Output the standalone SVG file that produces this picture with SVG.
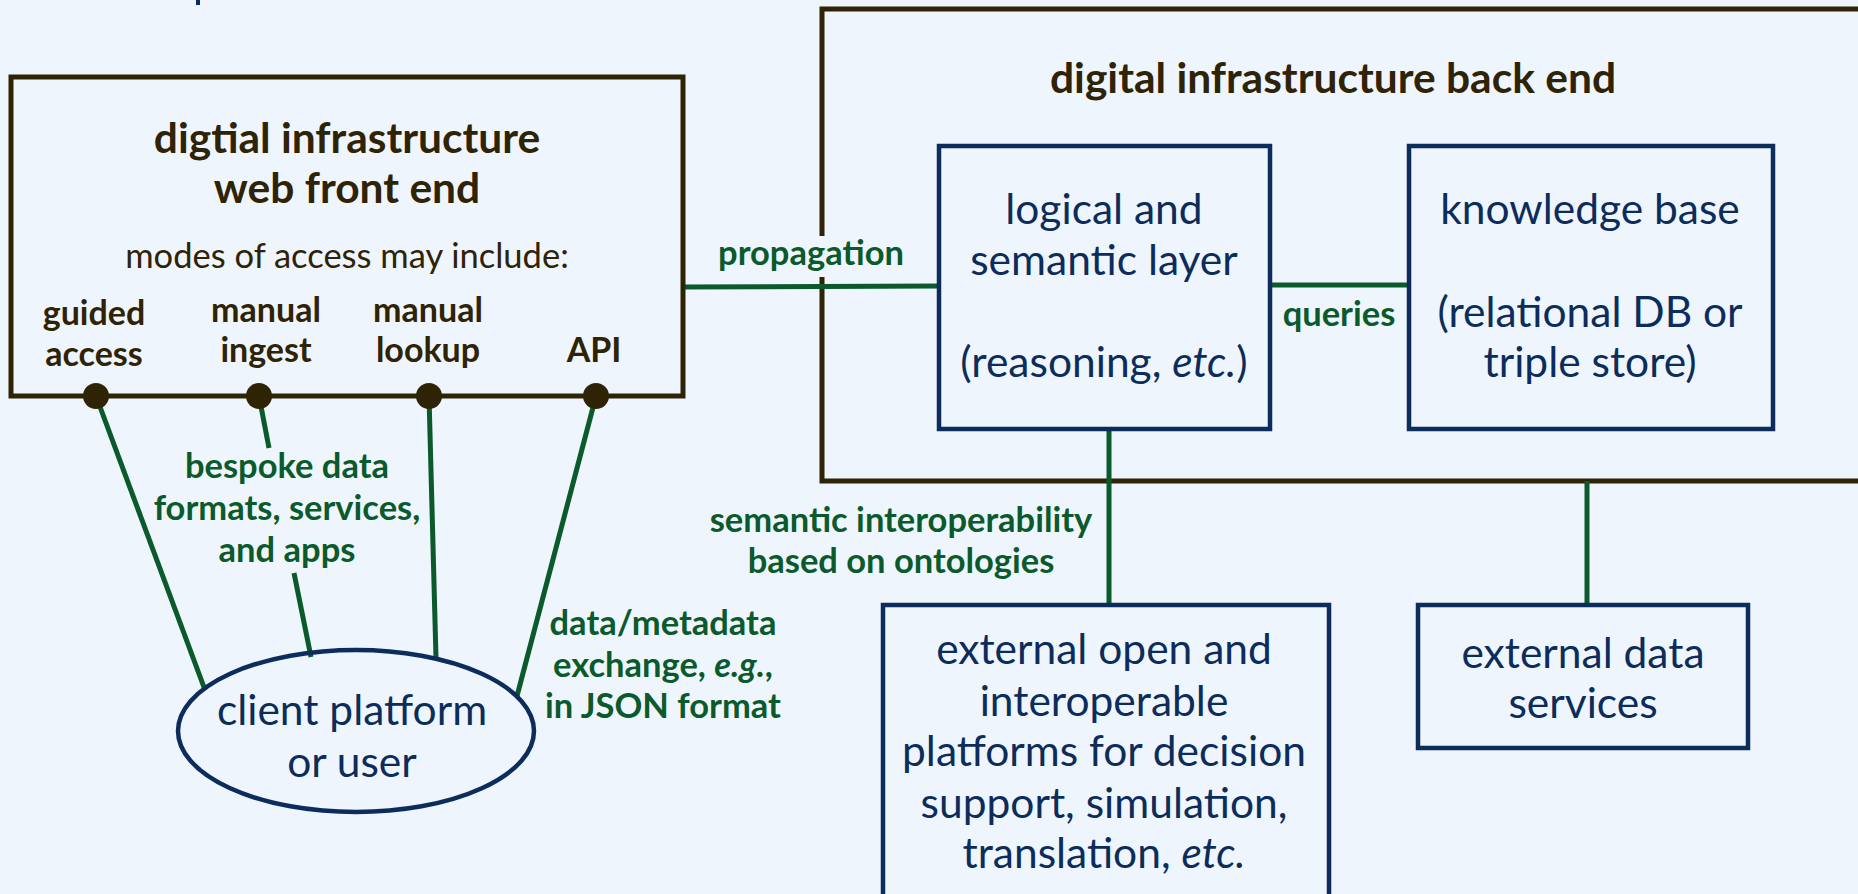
<svg xmlns="http://www.w3.org/2000/svg" width="1858" height="894" viewBox="0 0 1858 894">
<style>
.bg{fill:#eff5fd}
.brown{fill:none;stroke:#2f2306;stroke-width:5}
.navy{fill:none;stroke:#0c2d5b;stroke-width:4.5}
.con{fill:none;stroke:#0a5a2c;stroke-width:5}
.dot{fill:#2f2306}
.t{font-family:Lato,"Noto Sans","Liberation Sans",sans-serif;text-anchor:middle}
.hb{font-weight:bold;fill:#2f2306;font-size:42.5px}
.hr{fill:#2f2306;font-size:34.5px}
.mb{font-weight:bold;fill:#2f2306;font-size:34px}
.nv{fill:#0c2d5b;font-size:42.5px}
.gl{font-weight:bold;fill:#0a5a2c;font-size:34.5px}
</style>
<rect class="bg" x="0" y="0" width="1858" height="894"/>
<rect x="196" y="0" width="4" height="5" fill="#0c2d5b"/>

<g id="back-end">
<polyline class="brown" points="1862,9 822,9 822,481 1862,481"/>
<text class="t hb" x="1333" y="93">digital infrastructure back end</text>
</g>

<g id="connectors">
<line class="con" x1="683" y1="287" x2="939" y2="286"/>
<line class="con" x1="1270" y1="285" x2="1409" y2="285"/>
<line class="con" x1="1109" y1="429" x2="1109" y2="605"/>
<line class="con" x1="1587" y1="481" x2="1587" y2="605"/>
<line class="con" x1="96" y1="396" x2="205" y2="690"/>
<line class="con" x1="259" y1="396" x2="269" y2="448"/>
<line class="con" x1="294" y1="573" x2="311" y2="657"/>
<line class="con" x1="429" y1="396" x2="436" y2="658"/>
<line class="con" x1="596" y1="396" x2="517" y2="696"/>
</g>

<g id="labels">
<rect class="bg" x="714" y="236" width="194" height="41"/>
<text class="t gl" x="811" y="265">propagation</text>
<text class="t gl" x="1339" y="326">queries</text>
<text class="t gl" x="901" y="532">semantic interoperability</text>
<text class="t gl" x="901" y="573">based on ontologies</text>
<text class="t gl" x="287" y="478">bespoke data</text>
<text class="t gl" x="287" y="520">formats, services,</text>
<text class="t gl" x="287" y="562">and apps</text>
<text class="t gl" x="663" y="635">data/metadata</text>
<text class="t gl" x="663" y="677">exchange, <tspan font-style="italic">e.g.</tspan>,</text>
<text class="t gl" x="663" y="718">in JSON format</text>
</g>

<g id="front-end">
<rect class="brown" x="11" y="77" width="672" height="319"/>
<text class="t hb" x="347" y="153">digtial infrastructure</text>
<text class="t hb" x="347" y="203">web front end</text>
<text class="t hr" x="347" y="268">modes of access may include:</text>
<text class="t mb" x="94" y="325">guided</text>
<text class="t mb" x="94" y="366">access</text>
<text class="t mb" x="266" y="322">manual</text>
<text class="t mb" x="266" y="362">ingest</text>
<text class="t mb" x="428" y="322">manual</text>
<text class="t mb" x="428" y="362">lookup</text>
<text class="t mb" x="594" y="362">API</text>
<circle class="dot" cx="96" cy="396" r="13"/>
<circle class="dot" cx="259" cy="396" r="13"/>
<circle class="dot" cx="429" cy="396" r="13"/>
<circle class="dot" cx="596" cy="396" r="13"/>
</g>

<g id="logical-layer">
<rect class="navy" x="939" y="146" width="331" height="283" fill="#eff5fd"/>
<text class="t nv" x="1104" y="224">logical and</text>
<text class="t nv" x="1104" y="275">semantic layer</text>
<text class="t nv" x="1104" y="377">(reasoning, <tspan font-style="italic">etc.</tspan>)</text>
</g>

<g id="knowledge-base">
<rect class="navy" x="1409" y="146" width="364" height="283" fill="#eff5fd"/>
<text class="t nv" x="1590" y="224">knowledge base</text>
<text class="t nv" x="1590" y="327">(relational DB or</text>
<text class="t nv" x="1590" y="377">triple store)</text>
</g>

<g id="client">
<ellipse class="navy" cx="356" cy="731" rx="178" ry="81" fill="#eff5fd"/>
<text class="t nv" x="352" y="725">client platform</text>
<text class="t nv" x="352" y="777">or user</text>
</g>

<g id="external-platforms">
<rect class="navy" x="883" y="605" width="446" height="300" fill="#eff5fd"/>
<text class="t nv" x="1104" y="664">external open and</text>
<text class="t nv" x="1104" y="716">interoperable</text>
<text class="t nv" x="1104" y="766">platforms for decision</text>
<text class="t nv" x="1104" y="818">support, simulation,</text>
<text class="t nv" x="1104" y="868">translation, <tspan font-style="italic">etc.</tspan></text>
</g>

<g id="external-data">
<rect class="navy" x="1418" y="605" width="330" height="143" fill="#eff5fd"/>
<text class="t nv" x="1583" y="668">external data</text>
<text class="t nv" x="1583" y="718">services</text>
</g>
</svg>
